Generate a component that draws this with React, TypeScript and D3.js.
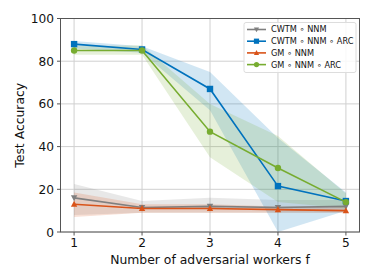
import React from "react";
import * as d3 from "d3";

// x positions (number of adversarial workers)
const workers = [1, 2, 3, 4, 5];
const yTicks = [0, 20, 40, 60, 80, 100];

// series means and shaded bands (lower / upper)
const cwtmNnm = [16, 11.5, 12, 11.5, 12];
const cwtmNnmLo = [8, 9, 9, 9, 9];
const cwtmNnmHi = [22.5, 14.5, 16, 15, 15];

const cwtmNnmArc = [88, 85.5, 67, 21.5, 14.5];
const cwtmNnmArcLo = [86, 84, 57, 0, 10];
const cwtmNnmArcHi = [89.5, 87, 75, 44, 18.5];

const gmNnm = [13, 11, 11, 10.5, 10];
const gmNnmLo = [7, 9, 9, 9, 9];
const gmNnmHi = [18.5, 13, 13, 12, 12];

const gmNnmArc = [85, 85, 47, 30, 14];
const gmNnmArcLo = [83, 83, 35, 14, 11];
const gmNnmArcHi = [87, 87.5, 60, 45, 18];

const series = [
  { name: "CWTM ∘ NNM", color: "#7f7f7f", mean: cwtmNnm, lo: cwtmNnmLo, hi: cwtmNnmHi, marker: "tri-down" },
  { name: "CWTM ∘ NNM ∘ ARC", color: "#0072BD", mean: cwtmNnmArc, lo: cwtmNnmArcLo, hi: cwtmNnmArcHi, marker: "square" },
  { name: "GM ∘ NNM", color: "#D95319", mean: gmNnm, lo: gmNnmLo, hi: gmNnmHi, marker: "tri-up" },
  { name: "GM ∘ NNM ∘ ARC", color: "#77AC30", mean: gmNnmArc, lo: gmNnmArcLo, hi: gmNnmArcHi, marker: "circle" },
];

const Marker = ({ kind, x, y, color, s = 3.2 }: any) => {
  if (kind === "square") return <rect x={x - s} y={y - s} width={2 * s} height={2 * s} fill={color} />;
  if (kind === "circle") return <circle cx={x} cy={y} r={s} fill={color} />;
  if (kind === "tri-up")
    return <path d={`M${x},${y - s * 1.1}L${x + s},${y + s * 0.8}L${x - s},${y + s * 0.8}Z`} fill={color} />;
  return <path d={`M${x},${y + s * 1.1}L${x + s},${y - s * 0.8}L${x - s},${y - s * 0.8}Z`} fill={color} />;
};

export default function App() {
  const width = 374;
  const height = 280;
  const left = 60.5, right = 359.5, top = 18.5, bottom = 232;

  const x = d3.scaleLinear().domain([0.8, 5.2]).range([left, right]);
  const y = d3.scaleLinear().domain([0, 100]).range([bottom, top]);

  const line = d3.line<number>().x((_, i) => x(workers[i])).y((d) => y(d));
  const area = (lo: number[], hi: number[]) =>
    d3.area<number>()
      .x((_, i) => x(workers[i]))
      .y0((_, i) => y(lo[i]))
      .y1((_, i) => y(hi[i]))(workers) as string;

  const font = "DejaVu Sans, sans-serif";
  const axisColor = "#555";

  return (
    <svg width={width} height={height} style={{ position: "absolute", left: 0, top: 0, background: "#fff" }} fontFamily={font}>
      {/* grid */}
      {workers.map((w) => (
        <line key={"gx" + w} x1={x(w)} x2={x(w)} y1={top} y2={bottom} stroke="#d0d0d0" strokeWidth={1} />
      ))}
      {yTicks.map((t) => (
        <line key={"gy" + t} x1={left} x2={right} y1={y(t)} y2={y(t)} stroke="#d0d0d0" strokeWidth={1} />
      ))}

      {/* bands */}
      {series.map((s) => (
        <path key={"b" + s.name} d={area(s.lo, s.hi)} fill={s.color} fillOpacity={0.18} stroke="none" />
      ))}

      {/* lines */}
      {series.map((s) => (
        <g key={"l" + s.name}>
          <path d={line(s.mean) as string} fill="none" stroke={s.color} strokeWidth={1.6} />
          {s.mean.map((v, i) => (
            <Marker key={i} kind={s.marker} x={x(workers[i])} y={y(v)} color={s.color} />
          ))}
        </g>
      ))}

      {/* frame */}
      <rect x={left} y={top} width={right - left} height={bottom - top} fill="none" stroke={axisColor} strokeWidth={1} />

      {/* x ticks */}
      {workers.map((w) => (
        <g key={"tx" + w}>
          <line x1={x(w)} x2={x(w)} y1={bottom} y2={bottom + 3.5} stroke={axisColor} />
          <text x={x(w)} y={246.5} textAnchor="middle" fontSize={12.2} fill="#111">{w}</text>
        </g>
      ))}
      {/* y ticks */}
      {yTicks.map((t) => (
        <g key={"ty" + t}>
          <line x1={left - 3.5} x2={left} y1={y(t)} y2={y(t)} stroke={axisColor} />
          <text x={left - 6.5} y={y(t) + 4.5} textAnchor="end" fontSize={12.2} fill="#111">{t}</text>
        </g>
      ))}

      <text x={(left + right) / 2} y={264} textAnchor="middle" fontSize={12.4} fill="#111">
        Number of adversarial workers f
      </text>
      <text transform={`translate(24,${(top + bottom) / 2}) rotate(-90)`} textAnchor="middle" fontSize={12.4} fill="#111">
        Test Accuracy
      </text>

      {/* legend */}
      <g transform="translate(244,22.5)">
        <rect x={0} y={0} width={112} height={50} rx={2} fill="#fff" fillOpacity={0.85} stroke="#ddd" />
        {series.map((s, i) => (
          <g key={"lg" + s.name} transform={`translate(0,${7 + i * 11.7})`}>
            <line x1={3} x2={22} y1={0} y2={0} stroke={s.color} strokeWidth={1.6} />
            <Marker kind={s.marker} x={12.5} y={0} color={s.color} s={2.6} />
            <text x={27} y={2.9} fontSize={8.2} fill="#111">{s.name}</text>
          </g>
        ))}
      </g>
    </svg>
  );
}
